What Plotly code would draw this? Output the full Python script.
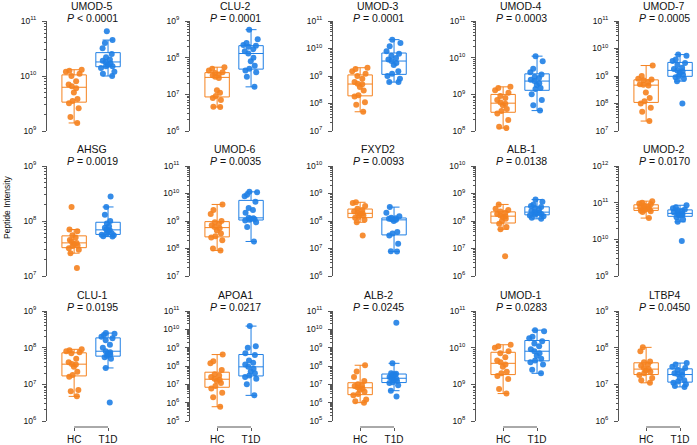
import numpy as np
import plotly.graph_objects as go

# peptide intensities (raw values, log axis)
UMOD5_HC = [1.3e10, 1.25e10, 1.2e10, 1.1e10, 1.0e10, 8e9, 7e9, 6.5e9, 6e9, 5e9, 3.8e9, 3.5e9, 3.2e9, 2.6e9, 1.8e9, 1.4e9]
UMOD5_T1D = [6.5e10, 4.5e10, 4e10, 3.2e10, 2.5e10, 2.2e10, 2e10, 1.9e10, 1.8e10, 1.7e10, 1.6e10, 1.5e10, 1.5e10, 1.4e10, 1.2e10, 1.1e10, 1.0e10]
CLU2_HC = [5.5e7, 5e7, 4.5e7, 4e7, 3.8e7, 3.5e7, 3.3e7, 3e7, 2.8e7, 1.3e7, 1.1e7, 9e6, 8e6, 7e6, 4.6e6, 4.5e6]
CLU2_T1D = [5.8e8, 3.2e8, 2.5e8, 2.2e8, 2.1e8, 2e8, 1.7e8, 1.5e8, 1.3e8, 1e8, 8e7, 6e7, 5e7, 4.5e7, 4e7, 3e7, 1.6e7]
UMOD3_HC = [2e9, 1.8e9, 1.5e9, 1.2e9, 1e9, 8e8, 6e8, 5.2e8, 5e8, 4e8, 3e8, 2e8, 1.8e8, 1.1e8, 9e7, 5e7]
UMOD3_T1D = [2.1e10, 1.6e10, 1.2e10, 8e9, 6.5e9, 5.5e9, 4.5e9, 4e9, 3.5e9, 3e9, 2.5e9, 1.5e9, 1.2e9, 1e9, 8e8, 6e8, 6e8]
UMOD4_HC = [1.6e9, 1.5e9, 1.3e9, 1.1e9, 9e8, 8e8, 7e8, 6e8, 5.5e8, 5e8, 4e8, 3.5e8, 3e8, 2e8, 1.3e8, 1.2e8]
UMOD4_T1D = [1.1e10, 8e9, 5e9, 4e9, 3.5e9, 3e9, 2.8e9, 2.5e9, 2.3e9, 2e9, 1.8e9, 1.5e9, 1.4e9, 1e9, 7e8, 5e8, 3.6e8]
UMOD7_HC = [2.4e9, 1e9, 8e8, 7.5e8, 7e8, 6e8, 5e8, 4.8e8, 4.5e8, 2.5e8, 1.6e8, 1.2e8, 1e8, 7e7, 5e7, 2.3e7]
UMOD7_T1D = [6e9, 5.5e9, 4e9, 3.5e9, 3e9, 2.5e9, 2e9, 1.8e9, 1.6e9, 1.5e9, 1.3e9, 1.1e9, 1e9, 9e8, 8e8, 6.5e8, 1e8]
AHSG_HC = [1.8e8, 7e7, 6.5e7, 5.5e7, 5e7, 4.5e7, 4.3e7, 4e7, 3.8e7, 3.6e7, 3.5e7, 3.2e7, 3e7, 2.6e7, 1.4e7]
AHSG_T1D = [2.8e8, 1.8e8, 1.3e8, 1e8, 9e7, 8e7, 7.5e7, 7e7, 6.8e7, 6.5e7, 6e7, 5.8e7, 5.6e7, 5.5e7, 5.3e7, 5.2e7]
UMOD6_HC = [4e9, 2.5e9, 1.8e9, 1e9, 9e8, 8e8, 7e8, 6e8, 5.5e8, 4.5e8, 3.5e8, 2.8e8, 2.5e8, 2e8, 1e8, 8.5e7]
UMOD6_T1D = [1.15e10, 1.1e10, 9e9, 8e9, 5e9, 3e9, 2.5e9, 2e9, 1.3e9, 1.25e9, 1.2e9, 1.15e9, 1.1e9, 1.05e9, 9e8, 6e8, 1.8e8]
FXYD2_HC = [4.8e8, 4.5e8, 3.5e8, 2.8e8, 2.5e8, 2.2e8, 2e8, 1.9e8, 1.8e8, 1.6e8, 1.4e8, 1.3e8, 1.1e8, 9e7, 3e7]
FXYD2_T1D = [3.2e8, 2e8, 1.5e8, 1.3e8, 1.25e8, 1.2e8, 1.15e8, 1.1e8, 1e8, 4e7, 3.5e7, 3e7, 1.5e7, 8e6, 7.8e6]
ALB1_HC = [4e8, 2.8e8, 2.5e8, 2.2e8, 2e8, 1.8e8, 1.6e8, 1.5e8, 1.4e8, 1.2e8, 1e8, 8e7, 6e7, 5e7, 5.2e6]
ALB1_T1D = [6e8, 5e8, 4e8, 3.5e8, 3.2e8, 3e8, 2.6e8, 2.3e8, 2.1e8, 2e8, 1.9e8, 1.8e8, 1.7e8, 1.6e8, 1.5e8, 1.3e8, 1.2e8]
UMOD2_HC = [1.1e11, 1e11, 9.5e10, 9e10, 8.5e10, 8e10, 7.5e10, 7.2e10, 7e10, 6.8e10, 6.5e10, 6.3e10, 6e10, 5.8e10, 5.6e10, 3.8e10]
UMOD2_T1D = [8.5e10, 7.5e10, 7e10, 6.5e10, 6.2e10, 6e10, 5.5e10, 5.2e10, 5e10, 4.8e10, 4.6e10, 4.5e10, 4e10, 3.5e10, 3e10, 9e9]
CLU1_HC = [9e7, 8.5e7, 8e7, 7.5e7, 7e7, 5e7, 4e7, 3.6e7, 3.5e7, 3e7, 2.2e7, 1.8e7, 1.6e7, 7e6, 6.5e6, 4.7e6]
CLU1_T1D = [2.5e8, 2.4e8, 2.2e8, 2e8, 1.8e8, 1.6e8, 1.2e8, 1e8, 8e7, 7.5e7, 7e7, 6.5e7, 6e7, 5.5e7, 5e7, 2.8e7, 3.2e6]
APOA1_HC = [4.2e8, 1.8e8, 1.4e8, 6e7, 3.5e7, 3e7, 2.5e7, 2e7, 1.8e7, 1.5e7, 1.2e7, 8e6, 6e6, 3.5e6, 2e6, 6e5]
APOA1_T1D = [1.5e10, 1.2e9, 1e9, 5e8, 4e8, 2e8, 1.5e8, 1.2e8, 9e7, 7e7, 5e7, 4e7, 3e7, 2.5e7, 2e7, 1e7, 2.5e6]
ALB2_HC = [1.1e8, 5e7, 2.5e7, 1.5e7, 1e7, 9e6, 8e6, 7e6, 6e6, 5e6, 4e6, 3e6, 2.5e6, 1.5e6, 1.2e6, 1e6]
ALB2_T1D = [2.3e10, 1.4e8, 4e7, 3.8e7, 3.5e7, 3.3e7, 2.5e7, 2.3e7, 2e7, 1.8e7, 1.5e7, 1.3e7, 1.2e7, 9e6, 4.5e6, 2.2e6]
UMOD1_HC = [1.2e10, 1.1e10, 1e10, 8e9, 7e9, 5.5e9, 4.5e9, 4e9, 3.5e9, 3e9, 2.2e9, 2e9, 1.7e9, 1.4e9, 7.5e8, 5.6e8]
UMOD1_T1D = [3e10, 2.8e10, 2e10, 1.8e10, 1.5e10, 1.3e10, 1.1e10, 9e9, 8e9, 7e9, 6e9, 5e9, 4.5e9, 4e9, 3.5e9, 2.5e9, 2e9]
LTBP4_HC = [1.02e8, 8e7, 4.2e7, 4e7, 3.5e7, 3.2e7, 2.8e7, 2.6e7, 2.4e7, 2.2e7, 2e7, 1.8e7, 1.5e7, 1.3e7, 1.1e7]
LTBP4_T1D = [3.8e7, 3.5e7, 3e7, 2.8e7, 2.5e7, 2.2e7, 2e7, 1.9e7, 1.8e7, 1.5e7, 1.3e7, 1.2e7, 1.1e7, 1e7, 9e6, 8.5e6]

# name, p-value text, axis decades (low, high), HC values, T1D values
PANELS = [
    ("UMOD-5", "< 0.0001", 9, 11, UMOD5_HC, UMOD5_T1D),
    ("CLU-2", "= 0.0001", 6, 9, CLU2_HC, CLU2_T1D),
    ("UMOD-3", "= 0.0001", 7, 11, UMOD3_HC, UMOD3_T1D),
    ("UMOD-4", "= 0.0003", 8, 11, UMOD4_HC, UMOD4_T1D),
    ("UMOD-7", "= 0.0005", 7, 11, UMOD7_HC, UMOD7_T1D),
    ("AHSG", "= 0.0019", 7, 9, AHSG_HC, AHSG_T1D),
    ("UMOD-6", "= 0.0035", 7, 11, UMOD6_HC, UMOD6_T1D),
    ("FXYD2", "= 0.0093", 6, 10, FXYD2_HC, FXYD2_T1D),
    ("ALB-1", "= 0.0138", 6, 10, ALB1_HC, ALB1_T1D),
    ("UMOD-2", "= 0.0170", 9, 12, UMOD2_HC, UMOD2_T1D),
    ("CLU-1", "= 0.0195", 6, 9, CLU1_HC, CLU1_T1D),
    ("APOA1", "= 0.0217", 5, 11, APOA1_HC, APOA1_T1D),
    ("ALB-2", "= 0.0245", 5, 11, ALB2_HC, ALB2_T1D),
    ("UMOD-1", "= 0.0283", 8, 11, UMOD1_HC, UMOD1_T1D),
    ("LTBP4", "= 0.0450", 6, 9, LTBP4_HC, LTBP4_T1D),
]
GROUPS = ["HC", "T1D"]
COLORS = ["#F5821F", "#1F7FE5"]

W, H = 697, 445
FONT = "Liberation Sans, Arial, sans-serif"
COL_X = [47, 190, 333, 476, 619]
PANEL_W = 78
ROW_TOP = [21, 166, 311]
PANEL_H = 110
TITLE_Y = [(6, 18), (149, 161), (295, 307)]
XAXIS_Y = 427

fig = go.Figure()
layout = {}
shapes = []
annotations = []

for i, (name, ptxt, lo, hi, hc, t1d) in enumerate(PANELS):
    row, col = divmod(i, 5)
    k = i + 1
    sfx = "" if k == 1 else str(k)

    for g, (vals, color) in enumerate(zip([hc, t1d], COLORS)):
        fig.add_trace(go.Box(
            y=np.log10(vals),
            x0=g,
            name=GROUPS[g],
            boxpoints="all",
            jitter=0.7,
            pointpos=0,
            width=0.72,
            whiskerwidth=0.45,
            fillcolor="rgba(255,255,255,0)",
            line=dict(color=color, width=1),
            marker=dict(color=color, size=6, opacity=0.9),
            xaxis="x" + sfx,
            yaxis="y" + sfx,
            showlegend=False,
        ))

    x0 = COL_X[col] / W
    x1 = (COL_X[col] + PANEL_W) / W
    top = ROW_TOP[row]
    xaxis = dict(domain=[x0, x1], range=[-0.8, 1.5], showgrid=False,
                 zeroline=False, fixedrange=True, automargin=False)
    if row < 2:
        xaxis.update(visible=False, anchor="y" + sfx)
    else:
        ypos = 1 - XAXIS_Y / H
        xaxis.update(anchor="free", position=ypos, showline=False,
                     tickvals=[0, 1], ticktext=GROUPS, ticks="outside",
                     ticklen=3, tickcolor="#555", tickwidth=1,
                     tickfont=dict(family=FONT, size=10, color="#111"))
        shapes.append(dict(type="line", xref="x" + sfx, yref="paper",
                           x0=0, x1=1, y0=ypos, y1=ypos,
                           line=dict(color="#555", width=1)))
    layout["xaxis" + sfx] = xaxis

    decades = list(range(lo, hi + 1))
    minor_vals = [e + np.log10(m) for e in range(lo, hi) for m in range(2, 10)]
    layout["yaxis" + sfx] = dict(
        domain=[1 - (top + PANEL_H) / H, 1 - top / H],
        range=[lo, hi],
        anchor="x" + sfx,
        automargin=False,
        showline=True, linecolor="#555", linewidth=1,
        showgrid=False, zeroline=False, fixedrange=True,
        ticks="outside", ticklen=4, tickcolor="#555", tickwidth=1,
        tickvals=decades,
        ticktext=[f"10<sup>{e}</sup>" for e in decades],
        ticklabelstandoff=4,
        tickfont=dict(family=FONT, size=8.5, color="#111"),
        minor=dict(tickvals=minor_vals, ticks="outside", ticklen=2,
                   tickcolor="#555", tickwidth=0.8, showgrid=False),
    )

    cx = (COL_X[col] + 45) / W
    ny, py = TITLE_Y[row]
    annotations.append(dict(text=name, x=cx, y=1 - ny / H, xref="paper", yref="paper",
                            xanchor="center", yanchor="middle", showarrow=False,
                            font=dict(family=FONT, size=10.5, color="#111")))
    annotations.append(dict(text=f"<i>P</i> {ptxt}", x=cx, y=1 - py / H, xref="paper",
                            yref="paper", xanchor="center", yanchor="middle",
                            showarrow=False,
                            font=dict(family=FONT, size=10.5, color="#111")))

annotations.append(dict(text="Peptide Intensity", x=7 / W, y=1 - 207 / H,
                        xref="paper", yref="paper", xanchor="center", yanchor="middle",
                        textangle=-90, showarrow=False,
                        font=dict(family=FONT, size=8.5, color="#111")))

fig.update_layout(
    width=W, height=H,
    margin=dict(l=0, r=0, t=0, b=0, autoexpand=False),
    paper_bgcolor="white", plot_bgcolor="white",
    boxmode="overlay",
    shapes=shapes,
    annotations=annotations,
    **layout,
)

# drop the browser's default 8px body margin so the figure fills the window
fig.write_html("out.html", config={"displayModeBar": False},
               post_script="document.body.style.margin = '0';")
